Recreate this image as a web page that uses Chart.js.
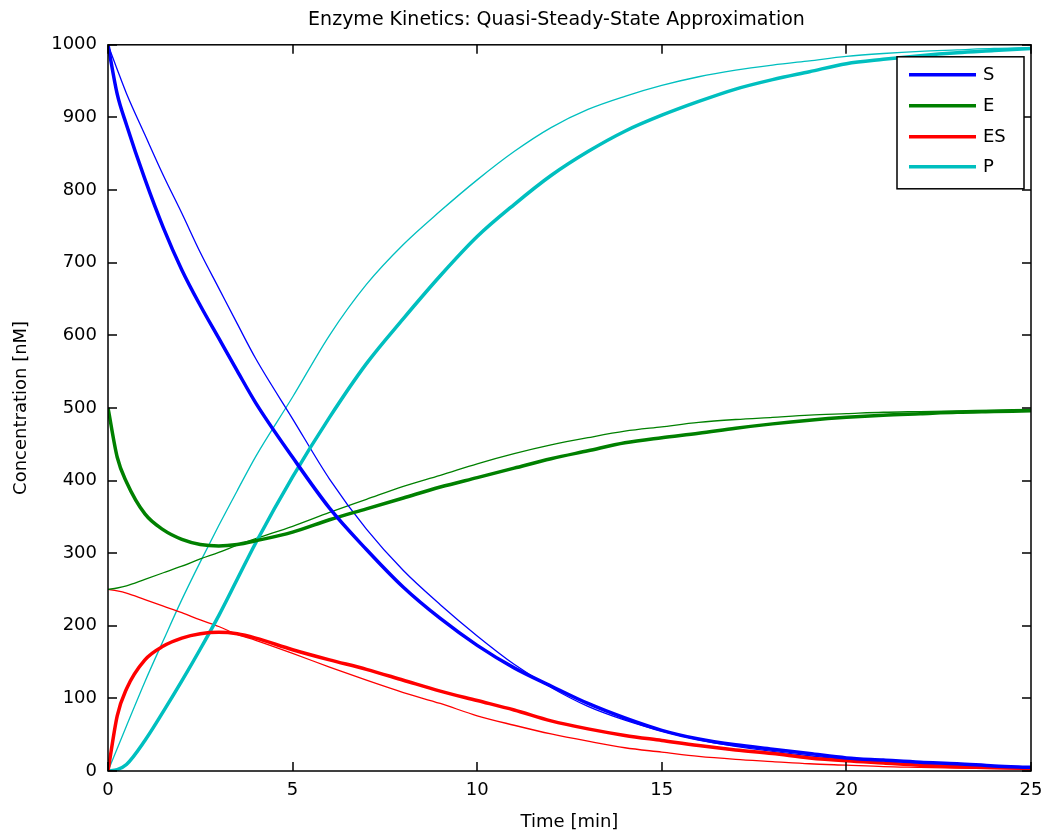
<!DOCTYPE html>
<html>
<head>
<meta charset="utf-8">
<script src="https://cdn.jsdelivr.net/npm/chart.js@4.4.1/dist/chart.umd.min.js"></script>
<style>
html,body{margin:0;padding:0;background:#fff;}
#wrap{width:1044px;height:838px;}
canvas{display:block;}
</style>
</head>
<body>
<div id="wrap"><canvas id="c" width="1044" height="838"></canvas></div>
<script>
// ---- data ----
const timeMin = [0,0.25,0.5,1,1.5,2,2.5,3,3.5,4,5,6,7,8,9,10,11,12,13,14,15,16,17,18,19,20,21,22,23,24,25];

// full mass-action model (thick lines)
const S_full  = [1000,932,890,815,748,690,641,596,551,507,432,362,305,253,210,173,142,117,93,73,56,44,36,30,24,18,15,12,10,7,5];
const E_full  = [500,432,398,354,332,319,312,310,312,317,329,346,361,376,391,404,417,430,441,452,459,465,472,478,483,487,490,492,494,495,496];
const ES_full = [0,76,113,153,172,183,189,191,189,183,167,153,140,125,110,97,84,69,58,49,42,35,29,24,18,14,11,8,6,5,4];
const P_full  = [0,2,9,42,82,124,168,214,264,314,405,487,561,623,682,736,780,820,853,881,903,922,939,952,963,974,980,985,989,992,995];

// quasi-steady-state approximation (thin lines)
const S_qssa  = [1000,966,933,876,820,768,714,665,616,568,485,402,333,276,229,186,147,115,89,70,55,43,34,27,21,16,12,9,7,5,4];
const E_qssa  = [250,252,255,264,273,282,292,301,311,320,337,356,374,392,407,423,437,449,459,468,474,480,484,487,490,492,494,495,496,497,498];
const ES_qssa = [250,248,245,236,227,218,208,199,188,180,162,143,125,108,93,76,63,51,41,32,26,20,16,13,10,8,6,5,4,3,2];
const P_qssa  = [0,31,62,123,180,236,288,338,386,433,515,600,670,725,771,814,853,886,911,929,944,956,965,972,978,984,988,991,993,995,996];

const xTickStep = 5;
const yTickStep = 100;
const seriesNames = ['S','E','ES','P'];
const titleText = 'Enzyme Kinetics: Quasi-Steady-State Approximation';
const xTitle = 'Time [min]';
const yTitle = 'Concentration [nM]';

// ---- styling ----
const FONT = 'DejaVu Sans';
const colors = {S:'#0000FF', E:'#008000', ES:'#FF0000', P:'#00BFBF'};
const THICK = 3.5, THIN = 1.3;

function pts(ys){ return timeMin.map((t,i)=>({x:t, y:ys[i]})); }

const fullSeries = [S_full, E_full, ES_full, P_full];
const qssaSeries = [S_qssa, E_qssa, ES_qssa, P_qssa];

const datasets = [];
seriesNames.forEach((n,i)=>{
  datasets.push({label:n, data:pts(fullSeries[i]), borderColor:colors[n], backgroundColor:colors[n],
    borderWidth:THICK, pointRadius:0, fill:false, cubicInterpolationMode:'monotone', inLegend:true});
});
seriesNames.forEach((n,i)=>{
  datasets.push({label:n+' (QSSA)', data:pts(qssaSeries[i]), borderColor:colors[n], backgroundColor:colors[n],
    borderWidth:THIN, pointRadius:0, fill:false, cubicInterpolationMode:'monotone', inLegend:false});
});

const boxPlugin = {
  id:'boxAndLegend',
  afterLayout(chart){
    // centre the title a little right of the canvas middle, as in the reference
    const tb = chart.titleBlock;
    if (tb) { tb.left = 82; tb.right = chart.chartArea.right; }
  },
  afterDatasetsDraw(chart){
    const {ctx, chartArea:a, scales:{x, y}} = chart;
    ctx.save();
    ctx.strokeStyle = '#000';
    ctx.lineWidth = 1.5;
    ctx.strokeRect(a.left, a.top, a.right-a.left, a.bottom-a.top);
    const L = 9;
    ctx.beginPath();
    x.ticks.forEach(t=>{
      const px = Math.round(x.getPixelForValue(t.value));
      ctx.moveTo(px, a.bottom); ctx.lineTo(px, a.bottom-L);
      ctx.moveTo(px, a.top); ctx.lineTo(px, a.top+L);
    });
    y.ticks.forEach(t=>{
      const py = Math.round(y.getPixelForValue(t.value));
      ctx.moveTo(a.left, py); ctx.lineTo(a.left+L, py);
      ctx.moveTo(a.right, py); ctx.lineTo(a.right-L, py);
    });
    ctx.stroke();

    // legend inside the axes, top right
    const items = chart.data.datasets.filter(d=>d.inLegend);
    const w = 127, h = 132;
    const lx = a.right - 7 - w, ly = a.top + 12;
    ctx.fillStyle = '#fff';
    ctx.fillRect(lx, ly, w, h);
    ctx.lineWidth = 1.5;
    ctx.strokeStyle = '#000';
    ctx.strokeRect(lx, ly, w, h);
    const rows = [18, 49, 80, 110];
    ctx.font = '18px "' + FONT + '"';
    ctx.textBaseline = 'middle';
    ctx.textAlign = 'left';
    items.forEach((d,i)=>{
      const ry = ly + rows[i];
      ctx.strokeStyle = d.borderColor;
      ctx.lineWidth = 3.5;
      ctx.beginPath();
      ctx.moveTo(lx+12, ry); ctx.lineTo(lx+79, ry);
      ctx.stroke();
      ctx.fillStyle = '#000';
      ctx.fillText(d.label, lx+86, ry+1);
    });
    ctx.restore();
  }
};

new Chart(document.getElementById('c'), {
  type:'line',
  data:{datasets},
  options:{
    responsive:false,
    animation:false,
    devicePixelRatio:1,
    layout:{padding:{left:0, right:13, top:0, bottom:0}},
    plugins:{
      legend:{display:false},
      tooltip:{enabled:false},
      title:{display:true, text:titleText, color:'#000',
        font:{family:FONT, size:19, weight:'normal'}, padding:{top:9, bottom:13}}
    },
    scales:{
      x:{type:'linear', min:0, max:25,
        ticks:{stepSize:xTickStep, color:'#000', font:{family:FONT, size:18}, padding:9, maxRotation:0,
          callback:(v)=>String(v)},
        grid:{display:false, drawTicks:false},
        border:{display:false},
        title:{display:true, text:xTitle, color:'#000', font:{family:FONT, size:18}, padding:{top:0, bottom:5}},
        afterFit(s){ s.height = 67; s.paddingLeft = 0; s.paddingRight = 0; }
      },
      y:{type:'linear', min:0, max:1000,
        ticks:{stepSize:yTickStep, color:'#000', font:{family:FONT, size:18}, padding:11,
          callback:(v)=>String(v)},
        grid:{display:false, drawTicks:false},
        border:{display:false},
        title:{display:true, text:yTitle, color:'#000', font:{family:FONT, size:18}, padding:{top:11, bottom:0}},
        afterFit(s){ s.width = 108; s.paddingTop = 0; s.paddingBottom = 0; }
      }
    }
  },
  plugins:[boxPlugin]
});
</script>
</body>
</html>
